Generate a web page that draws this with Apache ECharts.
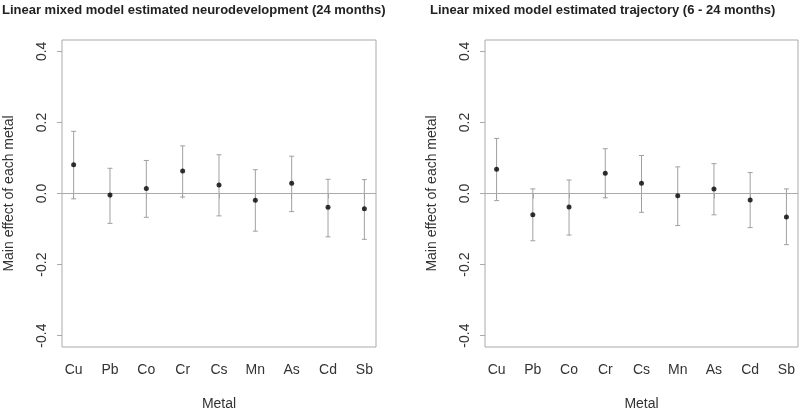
<!DOCTYPE html>
<html>
<head>
<meta charset="utf-8">
<script src="https://cdn.jsdelivr.net/npm/echarts@6/dist/echarts.min.js"></script>
<style>html,body{margin:0;padding:0;background:#fff}#c{width:800px;height:410px}</style>
</head>
<body>
<div id="c"></div>
<script>
var metals = ['Cu','Pb','Co','Cr','Cs','Mn','As','Cd','Sb'];
var est1 = [0.081, -0.004, 0.014, 0.063, 0.024, -0.019, 0.029, -0.039, -0.043];
var lo1  = [-0.015, -0.084, -0.067, -0.010, -0.063, -0.106, -0.051, -0.122, -0.129];
var hi1  = [0.175, 0.071, 0.093, 0.134, 0.109, 0.067, 0.105, 0.040, 0.039];
var est2 = [0.068, -0.060, -0.038, 0.057, 0.029, -0.006, 0.013, -0.018, -0.066];
var lo2  = [-0.020, -0.133, -0.117, -0.012, -0.053, -0.090, -0.060, -0.096, -0.144];
var hi2  = [0.155, 0.013, 0.038, 0.126, 0.107, 0.075, 0.084, 0.059, 0.013];
var yTicks = [-0.4, -0.2, 0.0, 0.2, 0.4];
var titles = ['Linear mixed model estimated neurodevelopment (24 months)', 'Linear mixed model estimated trajectory (6 - 24 months)'];
var xName = 'Metal';
var yName = 'Main effect of each metal';

var FONT = 'Liberation Sans, Arial, sans-serif';
var xPos = metals.map(function(m, i){ return i + 1; });
var chart = echarts.init(document.getElementById('c'), null, {renderer: 'canvas'});

function xAxis(gi){
  return {
    gridIndex: gi, type: 'value', min: 0.68, max: 9.32,
    name: xName, nameLocation: 'middle', nameGap: 50,
    nameTextStyle: {fontFamily: FONT, fontSize: 14, color: '#333'},
    axisLine: {show: false},
    splitLine: {show: false},
    axisTick: {show: true, inside: false, length: 5, customValues: xPos, lineStyle: {color: '#aaa'}},
    axisLabel: {customValues: xPos, margin: 16, fontFamily: FONT, fontSize: 14, color: '#333',
      formatter: function(v){ return metals[Math.round(v) - 1]; }}
  };
}
function yAxis(gi){
  return {
    gridIndex: gi, type: 'value', min: -0.432, max: 0.432,
    name: yName, nameLocation: 'middle', nameGap: 46,
    nameTextStyle: {fontFamily: FONT, fontSize: 14, color: '#333'},
    axisLine: {show: false},
    splitLine: {show: false},
    axisTick: {show: true, inside: false, length: 5, customValues: yTicks, lineStyle: {color: '#aaa'}},
    axisLabel: {customValues: yTicks, rotate: 90, margin: 13, fontFamily: FONT, fontSize: 14, color: '#333',
      formatter: function(v){ return v.toFixed(1); }}
  };
}
function errData(lo, hi){ return xPos.map(function(x, i){ return [x, lo[i], hi[i]]; }); }
function ptData(est){ return xPos.map(function(x, i){ return [x, est[i]]; }); }
function errSeries(gi, lo, hi){
  return {
    type: 'custom', xAxisIndex: gi, yAxisIndex: gi, silent: true,
    data: errData(lo, hi),
    renderItem: function(params, api){
      var x = api.value(0);
      var pLo = api.coord([x, api.value(1)]);
      var pHi = api.coord([x, api.value(2)]);
      var w = 2.5;
      var st = {stroke: '#a0a0a0', lineWidth: 1};
      return {type: 'group', children: [
        {type: 'line', shape: {x1: pLo[0], y1: pLo[1], x2: pHi[0], y2: pHi[1]}, style: st},
        {type: 'line', shape: {x1: pLo[0]-w, y1: pLo[1], x2: pLo[0]+w, y2: pLo[1]}, style: st},
        {type: 'line', shape: {x1: pHi[0]-w, y1: pHi[1], x2: pHi[0]+w, y2: pHi[1]}, style: st}
      ]};
    },
    markLine: {silent: true, symbol: 'none', label: {show: false},
      lineStyle: {color: '#aaa', type: 'solid', width: 1},
      data: [{yAxis: 0}]}
  };
}
function ptSeries(gi, est){
  return {type: 'scatter', xAxisIndex: gi, yAxisIndex: gi, silent: true,
    symbol: 'circle', symbolSize: 5, itemStyle: {color: '#000'}, data: ptData(est), z: 5};
}

chart.setOption({
  animation: false,
  title: [
    {text: titles[0], left: 2, top: 4, padding: 0, textStyle: {fontFamily: FONT, fontSize: 13, fontWeight: 'bold', color: '#222'}},
    {text: titles[1], left: 430, top: 4, padding: 0, textStyle: {fontFamily: FONT, fontSize: 13, fontWeight: 'bold', color: '#222'}}
  ],
  grid: [
    {left: 62, top: 40, width: 314, height: 307, containLabel: false, outerBoundsMode: 'none', show: true, borderColor: '#aaa', borderWidth: 1, backgroundColor: 'transparent'},
    {left: 485, top: 40, width: 313, height: 307, containLabel: false, outerBoundsMode: 'none', show: true, borderColor: '#aaa', borderWidth: 1, backgroundColor: 'transparent'}
  ],
  xAxis: [xAxis(0), xAxis(1)],
  yAxis: [yAxis(0), yAxis(1)],
  series: [errSeries(0, lo1, hi1), ptSeries(0, est1), errSeries(1, lo2, hi2), ptSeries(1, est2)]
});
</script>
</body>
</html>
